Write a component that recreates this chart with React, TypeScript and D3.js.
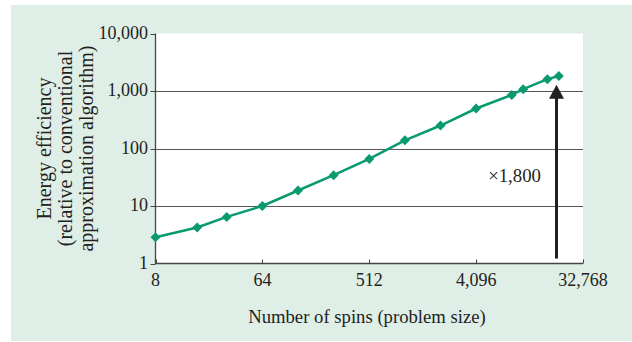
import React from "react";
import * as d3 from "d3";

const spins = [8, 18, 32, 64, 128, 256, 512, 1024, 2048, 4096, 8192, 10240, 16384, 20480];
const efficiency = [2.87, 4.23, 6.46, 10, 18.6, 34.3, 66, 139, 251, 496, 855, 1074, 1604, 1832];
const xTicks = [8, 64, 512, 4096, 32768];
const xTickLabels = ["8", "64", "512", "4,096", "32,768"];
const yTicks = [1, 10, 100, 1000, 10000];
const yTickLabels = ["1", "10", "100", "1,000", "10,000"];
const yTitle = ["Energy efficiency", "(relative to conventional", "approximation algorithm)"];
const xTitle = "Number of spins (problem size)";
const arrowSpin = 19200;
const arrowFrom = 1.22;
const arrowTo = 1290;
const arrowLabel = "\u00d71,800";
const arrowLabelValue = 26;

const W = 632, H = 342;
const L = 155.5, R = 583, T = 33.5, B = 263.5;
const GREEN = "#0a9a70";
const DARK = "#231f20";
const FONT = "'Liberation Serif', 'Times New Roman', serif";

export default function App() {
  const x = d3.scaleLog().base(2).domain([8, 32768]).range([L, R]);
  const y = d3.scaleLog().domain([1, 10000]).range([B, T]);
  const line = d3.line<number>().x((_, i) => x(spins[i])).y((d) => y(d));
  const ax = Math.round(x(arrowSpin)) + 0.5;
  const tipY = y(arrowTo);
  const headH = 14, headW = 15;
  return (
    <svg width={W} height={H} style={{ position: "absolute", left: 0, top: 0 }} fontFamily={FONT}>
      <rect x={0} y={0} width={W} height={H} fill="#ffffff" />
      <rect x={11} y={5} width={W - 11} height={H - 6} fill="#dfeee7" />
      <rect x={L} y={T} width={R - L} height={B - T} fill="#ffffff" />
      {yTicks.slice(1, 4).map((v) => (
        <line key={v} x1={L} x2={R} y1={Math.round(y(v)) + 0.5} y2={Math.round(y(v)) + 0.5} stroke="#555" strokeWidth={1} />
      ))}
      {yTicks.map((v, i) => (
        <g key={"yt" + v}>
          <line x1={L - 5} x2={L} y1={Math.round(y(v)) + 0.5} y2={Math.round(y(v)) + 0.5} stroke="#444" strokeWidth={1} />
          <text x={148} y={y(v)} dy="0.3em" textAnchor="end" fontSize={18} fill={DARK}>{yTickLabels[i]}</text>
        </g>
      ))}
      {xTicks.map((v, i) => (
        <g key={"xt" + v}>
          <line x1={Math.round(x(v)) + 0.5} x2={Math.round(x(v)) + 0.5} y1={B - 4} y2={B} stroke="#444" strokeWidth={1} />
          <text x={x(v)} y={286} textAnchor="middle" fontSize={18} fill={DARK}>{xTickLabels[i]}</text>
        </g>
      ))}
      <line x1={L} x2={L} y1={T} y2={B + 0.5} stroke="#444" strokeWidth={1.3} />
      <line x1={L} x2={R} y1={B} y2={B} stroke="#444" strokeWidth={1.3} />
      <path d={line(efficiency) || ""} fill="none" stroke={GREEN} strokeWidth={2.5} />
      {efficiency.map((v, i) => {
        const cx = x(spins[i]), cy = y(v), s = 5;
        return <path key={"m" + i} d={`M${cx},${cy - s}L${cx + s},${cy}L${cx},${cy + s}L${cx - s},${cy}Z`} fill={GREEN} />;
      })}
      <line x1={ax} x2={ax} y1={y(arrowFrom)} y2={tipY + headH - 1} stroke={DARK} strokeWidth={3} />
      <path d={`M${ax},${tipY}L${ax + headW / 2},${tipY + headH}L${ax - headW / 2},${tipY + headH}Z`} fill={DARK} />
      <text x={541} y={y(arrowLabelValue)} textAnchor="end" fontSize={18.8} fill={DARK}>{arrowLabel}</text>
      <text x={367} y={323} textAnchor="middle" fontSize={18.7} fill={DARK}>{xTitle}</text>
      <g transform={`translate(65,${(T + B) / 2}) rotate(-90)`}>
        {yTitle.map((t, i) => (
          <text key={t} x={0} y={(i - 1) * 21} dy="0.35em" textAnchor="middle" fontSize={20} fill={DARK}>{t}</text>
        ))}
      </g>
    </svg>
  );
}
